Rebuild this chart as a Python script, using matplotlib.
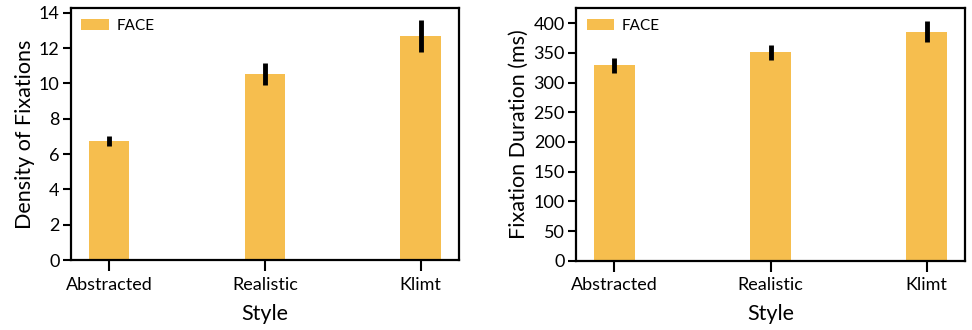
import matplotlib.pyplot as plt
import numpy as np

# chart values
styles = ['Abstracted', 'Realistic', 'Klimt']
density = [6.72, 10.53, 12.68]
density_err = [0.28, 0.62, 0.93]
duration = [329, 351, 386]
duration_err = [12, 13, 17]

bar_color = '#F6BE4E'
plt.rcParams['font.family'] = ['Lato', 'DejaVu Sans']

fig = plt.figure(figsize=(9.72, 3.3), dpi=100)
ax1 = fig.add_axes([0.0727, 0.212, 0.3995, 0.764])
ax2 = fig.add_axes([0.5926, 0.210, 0.4002, 0.766])

x = np.arange(len(styles))


def draw(ax, vals, errs, ylabel, ymax, yticks):
    ax.bar(x, vals, width=0.26, color=bar_color, label='FACE')
    ax.errorbar(x, vals, yerr=errs, fmt='none', ecolor='black',
                elinewidth=3.5, capsize=0)
    ax.set_xlim(-0.245, 2.245)
    ax.set_ylim(0, ymax)
    ax.set_yticks(yticks)
    ax.set_xticks(x)
    ax.set_xticklabels(styles)
    ax.tick_params(axis='both', direction='out', labelsize=13, width=1.5,
                   length=6, colors='black')
    ax.tick_params(axis='x', length=8, pad=4)
    ax.tick_params(axis='y', pad=2)
    for s in ax.spines.values():
        s.set_linewidth(1.6)
    ax.set_xlabel('Style', fontsize=15.5, labelpad=8)
    ax.set_ylabel(ylabel, fontsize=15.5, labelpad=3)
    ax.legend(loc='upper left', frameon=False, fontsize=11,
              handlelength=1.8, handleheight=0.7, handletextpad=0.5,
              borderaxespad=0.3)


draw(ax1, density, density_err, 'Density of Fixations', 14.27, range(0, 15, 2))
draw(ax2, duration, duration_err, 'Fixation Duration (ms)', 425.8, range(0, 401, 50))

fig.savefig('out.png', dpi=100)
